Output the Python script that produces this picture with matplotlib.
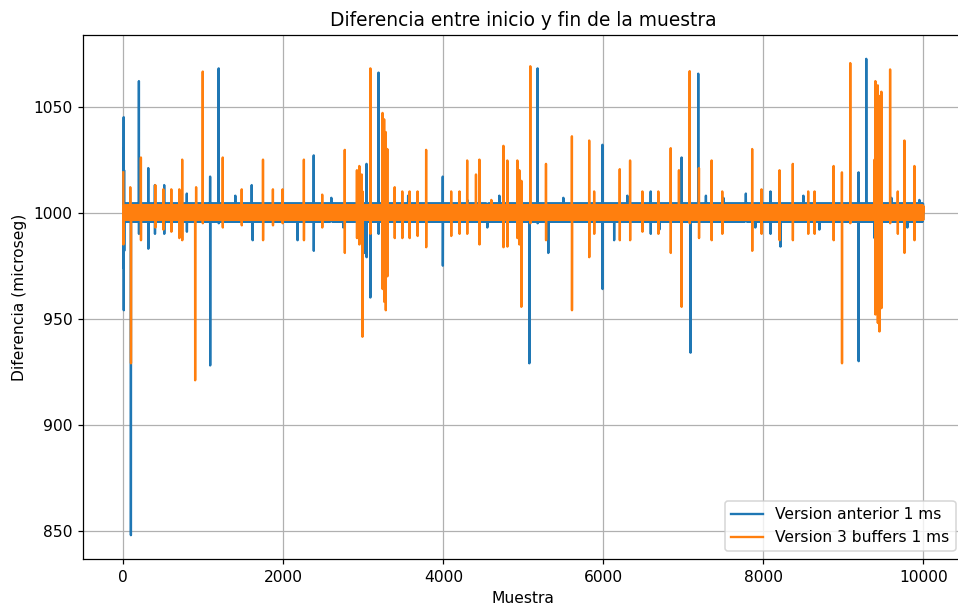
"""
Diferencia entre inicio y fin de cada muestra: version anterior vs version
con 3 buffers, periodo de 1 ms.
"""

import numpy as np
import matplotlib
matplotlib.use('Agg')
import matplotlib.pyplot as plt


# =============================================================================
# Datos
# =============================================================================

N_SAMPLES = 10000

# Jitter base (microseg) que se repite a lo largo de toda la captura
BASE_ANTERIOR = [1000.5, 1003.8, 997.2, 1002.1, 995.8, 1001.4, 998.6,
                 1004.3, 996.5, 999.7, 1002.9]
BASE_BUFFERS = [1000.2, 1003.2, 997.0, 1001.8, 996.8, 1002.6, 998.4,
                1003.5, 997.6, 999.1, 1001.3, 996.6, 1002.9]

# Picos: (muestra, diferencia en microseg)
PICOS_ANTERIOR = [
    (0, 1030), (2, 974), (5, 1045), (6, 954), (10, 1020), (12, 982),
    (95, 848), (195, 1062), (196, 990), (312, 1021), (313, 983),
    (395, 1013), (396, 990), (511, 1013), (512, 990), (794, 1009), (795, 991),
    (1085, 1017), (1086, 928), (1192, 1068), (1193, 995),
    (1400, 1008), (1605, 1013), (1617, 987), (2178, 987),
    (2380, 1027), (2381, 982), (2600, 1007), (2750, 993),
    (3017, 981), (3040, 1023), (3041, 979), (3088, 960),
    (3190, 1066), (3191, 990), (3560, 1008), (3993, 1017), (3994, 975),
    (4300, 1006), (4550, 993), (4700, 1008), (5075, 929),
    (5178, 1068), (5179, 995), (5312, 981), (5500, 1007),
    (5989, 1032), (5990, 964), (6135, 987), (6300, 1008),
    (6592, 1010), (6593, 990), (6700, 992), (6978, 1026), (6979, 973),
    (7090, 934), (7186, 1065.5), (7282, 1008), (7500, 1007),
    (7781, 1009), (7900, 993), (8089, 1010), (8090, 990), (8214, 984),
    (8500, 1008), (8700, 992), (9190, 1019), (9191, 930),
    (9286, 1072.5), (9390, 988), (9600, 1007), (9800, 993), (9950, 1006),
]

PICOS_BUFFERS = [
    (0, 1019), (1, 985), (87, 1012), (96, 929),
    (220, 1026), (221, 987), (400, 1013), (401, 993),
    (500, 1011), (501, 992), (600, 1011), (601, 991),
    (700, 1011), (701, 988), (736, 1025), (737, 987),
    (898, 921), (910, 1012), (993, 1066.5), (994, 995),
    (1243, 1026), (1244, 993), (1480, 1011), (1481, 994),
    (1746, 1025), (1747, 987), (1870, 1011), (1871, 994),
    (1991, 1011), (1992, 995), (2257, 1025), (2258, 987),
    (2486, 1008.5), (2487, 993), (2768, 1029.6), (2769, 981),
    (2920, 1020), (2921, 988), (2950, 1022), (2951, 985),
    (2980, 1018), (2981, 987), (2989, 941.5), (2990, 1010),
    (3088, 1068), (3089, 990),
    (3240, 1047), (3241, 964), (3260, 1044), (3261, 958),
    (3280, 1038), (3281, 954), (3300, 1030), (3301, 970),
    (3392, 1012), (3393, 988), (3487, 1010), (3488, 988),
    (3578, 1010), (3579, 988), (3678, 1010), (3679, 989),
    (3785, 1029.6), (3786, 983.7), (4098, 1010), (4099, 989),
    (4202, 1010), (4203, 990), (4298, 1024.6), (4299, 990),
    (4408, 1018), (4451, 1025), (4452, 985), (4600, 1006),
    (4751, 1031.5), (4752, 983.7), (4800, 1024.6), (4801, 984),
    (4925, 1024.6), (4926, 988), (4950, 1020), (4951, 985),
    (4975, 955.6), (4976, 1015), (5087, 1069), (5088, 995),
    (5283, 1023), (5284, 987), (5607, 1036), (5608, 954),
    (5823, 1034), (5824, 979), (5885, 1010), (5886, 990),
    (6205, 1020.5), (6206, 987), (6334, 1024.6), (6335, 987),
    (6488, 1010), (6489, 991), (6687, 1010), (6688, 990),
    (6842, 1030.4), (6843, 981), (6945, 1020), (6978, 955.6),
    (7079, 1066.7), (7080, 995), (7195, 1021), (7196, 988),
    (7353, 1024.6), (7354, 987), (7486, 1010), (7487, 990),
    (7860, 1030), (7861, 982), (7977, 1011), (7978, 990),
    (8202, 1020), (8203, 987), (8368, 1023), (8369, 987),
    (8560, 1010), (8561, 990), (8640, 1010), (8641, 990),
    (8878, 1022), (8879, 987), (8982, 1019), (8983, 929),
    (9086, 1070.5), (9087, 995),
    (9390, 1025), (9400, 1062), (9401, 952), (9420, 1040), (9421, 960),
    (9430, 1060), (9431, 948), (9450, 1055), (9451, 944),
    (9475, 1057), (9476, 955),
    (9584, 1067.5), (9585, 995), (9680, 1010), (9681, 990),
    (9763, 1034), (9764, 981), (9888, 1022), (9889, 987),
]

LABEL_ANTERIOR = 'Version anterior 1 ms'
LABEL_BUFFERS = 'Version 3 buffers 1 ms'


# =============================================================================
# Configuracion visual
# =============================================================================

DPI = 112
FIGURE_PX = (958, 610)
FIGURE_SIZE = (FIGURE_PX[0] / DPI, FIGURE_PX[1] / DPI)
# posicion de los ejes en pixeles (izq, abajo, ancho, alto); el borde
# derecho queda un poco fuera de la imagen
AX_BOX = (83.3, 51.0, 880.0, 524.0)


def build_series(base, picos):
    """Serie completa: jitter base repetido + picos en sus muestras."""
    y = np.resize(np.asarray(base, dtype=float), N_SAMPLES)
    for idx, val in picos:
        y[idx] = val
    return y


def main():
    x = np.arange(N_SAMPLES)
    y_anterior = build_series(BASE_ANTERIOR, PICOS_ANTERIOR)
    y_buffers = build_series(BASE_BUFFERS, PICOS_BUFFERS)

    fig = plt.figure(figsize=FIGURE_SIZE, dpi=DPI)
    w, h = FIGURE_PX
    l, b, aw, ah = AX_BOX
    ax = fig.add_axes([l / w, b / h, aw / w, ah / h])

    ax.plot(x, y_anterior, label=LABEL_ANTERIOR)
    ax.plot(x, y_buffers, label=LABEL_BUFFERS)

    ax.set_title('Diferencia entre inicio y fin de la muestra')
    ax.set_xlabel('Muestra')
    ax.set_ylabel('Diferencia (microseg)')
    ax.grid(True)
    ax.spines['right'].set_visible(False)
    ax.legend(loc='lower right')

    fig.savefig('out.png', dpi=DPI)
    plt.close(fig)


if __name__ == '__main__':
    main()
